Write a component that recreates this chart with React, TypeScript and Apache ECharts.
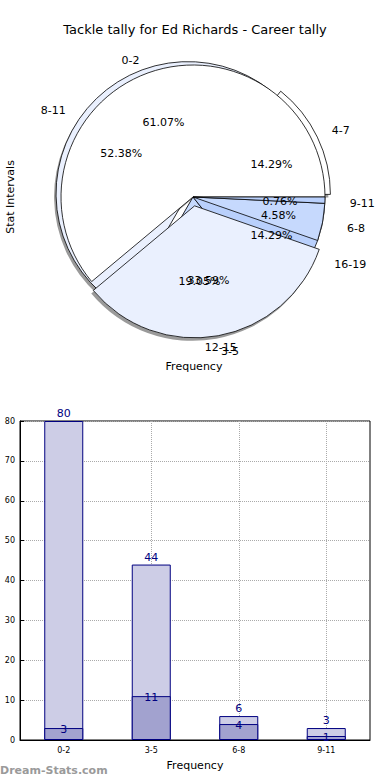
import React, { useEffect, useRef } from "react";
import * as echarts from "echarts";

const pie1Labels = ["0-2", "3-5", "6-8", "9-11"];
const pie1Values = [80, 44, 6, 1];
const pie1Exploded = [false, true, false, false];

const pie2Labels = ["4-7", "8-11", "12-15", "16-19"];
const pie2Values = [3, 11, 4, 3];
const pie2Exploded = [true, true, false, false];

const barCategories = ["0-2", "3-5", "6-8", "9-11"];
const barLight = [80, 44, 6, 3];
const barDark = [3, 11, 4, 1];

const sliceColors = ["#ffffff", "#eaf0fe", "#c6d9fd", "#b9d0fc"];
const FONT = "DejaVu Sans";

const CX = 193;
const CY = 197;
const R = 132;
// the reference pie is slightly wider than tall; push labels sideways a little
const WIDEN = 8;

function midAngles(values: number[]) {
  const total = values.reduce((a, b) => a + b, 0);
  let acc = 0;
  return values.map((v) => {
    const mid = ((acc + v / 2) / total) * Math.PI * 2;
    acc += v;
    return mid;
  });
}

function pctFormatter(values: number[]) {
  const total = values.reduce((a, b) => a + b, 0);
  return (p: any) => ((p.value / total) * 100).toFixed(2) + "%";
}

function shadowPie(labels: string[], values: number[], exploded: boolean[], offset: number) {
  return {
    type: "pie",
    center: [CX - 2, CY + 3],
    radius: [0, R],
    startAngle: 0,
    clockwise: false,
    silent: true,
    selectedMode: "multiple",
    selectedOffset: offset,
    emphasis: { disabled: true },
    itemStyle: { color: "#9a9a9a", borderWidth: 0 },
    label: { show: false },
    labelLine: { show: false },
    data: labels.map((name, i) => ({ name, value: values[i], selected: exploded[i] })),
  };
}

function visiblePie(labels: string[], values: number[], exploded: boolean[], offset: number) {
  const mids = midAngles(values);
  return {
    type: "pie",
    center: [CX, CY],
    radius: [0, R],
    startAngle: 0,
    clockwise: false,
    selectedMode: "multiple",
    selectedOffset: offset,
    avoidLabelOverlap: false,
    labelLayout: { hideOverlap: false },
    emphasis: { disabled: true },
    itemStyle: { borderColor: "#000", borderWidth: 0.8 },
    label: {
      show: true,
      position: "outside",
      fontSize: 11,
      color: "#000",
      fontFamily: FONT,
      distanceToLabelLine: 0,
    },
    labelLine: { show: false, length: 16, length2: 0 },
    data: labels.map((name, i) => ({
      name,
      value: values[i],
      selected: exploded[i],
      itemStyle: { color: sliceColors[i % sliceColors.length] },
      label: { offset: [1.1 * WIDEN * Math.cos(mids[i]), 3] },
    })),
  };
}

function labelPie(labels: string[], values: number[]) {
  const mids = midAngles(values);
  return {
    type: "pie",
    center: [CX, CY],
    radius: [0, R * 1.2],
    startAngle: 0,
    clockwise: false,
    silent: true,
    avoidLabelOverlap: false,
    labelLayout: { hideOverlap: false },
    itemStyle: { color: "rgba(0,0,0,0)", borderWidth: 0 },
    label: {
      show: true,
      position: "inside",
      fontSize: 11,
      color: "#000",
      fontFamily: FONT,
      formatter: pctFormatter(values),
    },
    labelLine: { show: false },
    data: labels.map((name, i) => ({
      name,
      value: values[i],
      label: { offset: [0.6 * WIDEN * Math.cos(mids[i]), 3] },
    })),
  };
}

export default function App() {
  const ref = useRef<HTMLDivElement>(null);
  useEffect(() => {
    if (!ref.current) return;
    const chart = echarts.init(ref.current, undefined, { renderer: "svg" });
    const option: any = {
      animation: false,
      backgroundColor: "#fff",
      title: {
        text: "Tackle tally for Ed Richards - Career tally",
        left: "center",
        top: 18,
        textStyle: { fontSize: 13, fontWeight: "normal", color: "#000", fontFamily: FONT },
      },
      graphic: [
        {
          type: "text",
          x: 10,
          y: 197,
          rotation: Math.PI / 2,
          style: { text: "Stat Intervals", fontSize: 11, fontFamily: FONT, fill: "#000", textAlign: "center", textVerticalAlign: "middle" },
        },
        {
          type: "text",
          x: 194,
          y: 366,
          style: { text: "Frequency", fontSize: 11, fontFamily: FONT, fill: "#000", textAlign: "center", textVerticalAlign: "middle" },
        },
        {
          type: "text",
          x: 0,
          y: 770,
          style: { text: "Dream-Stats.com", fontSize: 11, fontWeight: "bold", fontFamily: FONT, fill: "#9a9a9a", textAlign: "left", textVerticalAlign: "middle" },
        },
      ],
      grid: {
        left: 20,
        right: 20,
        top: 421,
        bottom: 40,
        show: true,
        borderColor: "#000",
        borderWidth: 1,
        backgroundColor: "transparent",
      },
      xAxis: {
        type: "category",
        data: barCategories,
        name: "Frequency",
        nameLocation: "middle",
        nameGap: 20,
        nameTextStyle: { fontSize: 11, color: "#000", fontFamily: FONT },
        axisLine: { lineStyle: { color: "#000" } },
        axisTick: { show: true, inside: true, alignWithLabel: true, length: 4, lineStyle: { color: "#000" } },
        axisLabel: { fontSize: 8, color: "#000", fontFamily: FONT, margin: 6 },
        splitLine: { show: true, alignWithLabel: true, lineStyle: { color: "#aaa", type: "dotted", width: 1 } },
      },
      yAxis: {
        type: "value",
        min: 0,
        max: 80,
        interval: 10,
        axisLine: { show: true, lineStyle: { color: "#000" } },
        axisTick: { show: true, inside: true, length: 4, lineStyle: { color: "#000" } },
        axisLabel: { fontSize: 8, color: "#000", fontFamily: FONT, margin: 5 },
        splitLine: { show: true, lineStyle: { color: "#aaa", type: "dotted", width: 1 } },
      },
      series: [
        shadowPie(pie2Labels, pie2Values, pie2Exploded, 6),
        shadowPie(pie1Labels, pie1Values, pie1Exploded, 9),
        visiblePie(pie2Labels, pie2Values, pie2Exploded, 6),
        visiblePie(pie1Labels, pie1Values, pie1Exploded, 9),
        labelPie(pie2Labels, pie2Values),
        labelPie(pie1Labels, pie1Values),
        {
          type: "bar",
          data: barLight,
          barWidth: 39,
          barGap: "-100%",
          itemStyle: { color: "#cdcde6", borderColor: "#000080", borderWidth: 1 },
          label: { show: true, position: "top", distance: 2, fontSize: 11, color: "#000080", fontFamily: FONT },
          emphasis: { disabled: true },
        },
        {
          type: "bar",
          data: barDark,
          barWidth: 39,
          barGap: "-100%",
          itemStyle: { color: "#a2a2cf", borderColor: "#000080", borderWidth: 1 },
          label: { show: true, position: "top", distance: -7, fontSize: 11, color: "#000080", fontFamily: FONT },
          emphasis: { disabled: true },
        },
      ],
    };
    chart.setOption(option);
    return () => chart.dispose();
  }, []);
  return (
    <div
      ref={ref}
      style={{ position: "absolute", left: 0, top: 0, width: 390, height: 780, background: "#fff" }}
    />
  );
}
